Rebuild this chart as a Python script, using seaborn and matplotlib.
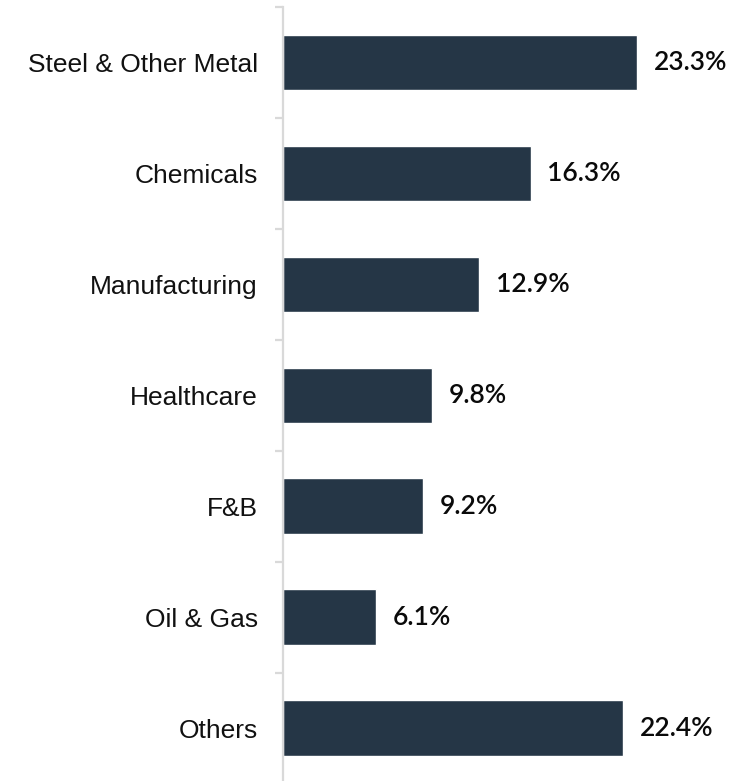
import matplotlib
matplotlib.use("Agg")
import matplotlib.pyplot as plt
import seaborn as sns
import pandas as pd
import numpy as np

sectors = ["Steel & Other Metal", "Chemicals", "Manufacturing", "Healthcare",
           "F&B", "Oil & Gas", "Others"]
shares = [23.3, 16.3, 12.9, 9.8, 9.2, 6.1, 22.4]

df = pd.DataFrame({"sector": sectors, "share": shares})

sns.set_theme(style="white")
plt.rcParams["font.family"] = ["Liberation Sans", "DejaVu Sans"]

DPI = 100
fig = plt.figure(figsize=(7.55, 7.81), dpi=DPI)
ax = fig.add_axes([283 / 755, -2.5 / 781, 472 / 755, 776.5 / 781])

bar_color = "#253646"
sns.barplot(data=df, x="share", y="sector", orient="h", color=bar_color,
            width=0.5, saturation=1, ax=ax)

ax.set_xlim(0, 472 / 15.19)
ax.set_ylim(len(sectors) - 0.5, -0.5)
ax.set_xlabel("")
ax.set_ylabel("")
ax.set_xticks([])

for s in ["top", "right", "bottom"]:
    ax.spines[s].set_visible(False)
ax.spines["left"].set_color("#d9d9d9")
ax.spines["left"].set_linewidth(1.6)

ax.tick_params(axis="y", which="major", length=0, pad=18, labelsize=19,
               labelcolor="#111111")
ax.set_yticks(np.arange(len(sectors) + 1) - 0.5, minor=True)
ax.tick_params(axis="y", which="minor", length=6, width=1.6, color="#d9d9d9",
               left=True)

for i, v in enumerate(shares):
    ax.text(v + 1.1, i, f"{v:.1f}%", va="center", ha="left", fontsize=19,
            family=["Lato", "DejaVu Sans"], fontweight="semibold", color="#0a0a0a")

fig.savefig("out.png", dpi=DPI)
